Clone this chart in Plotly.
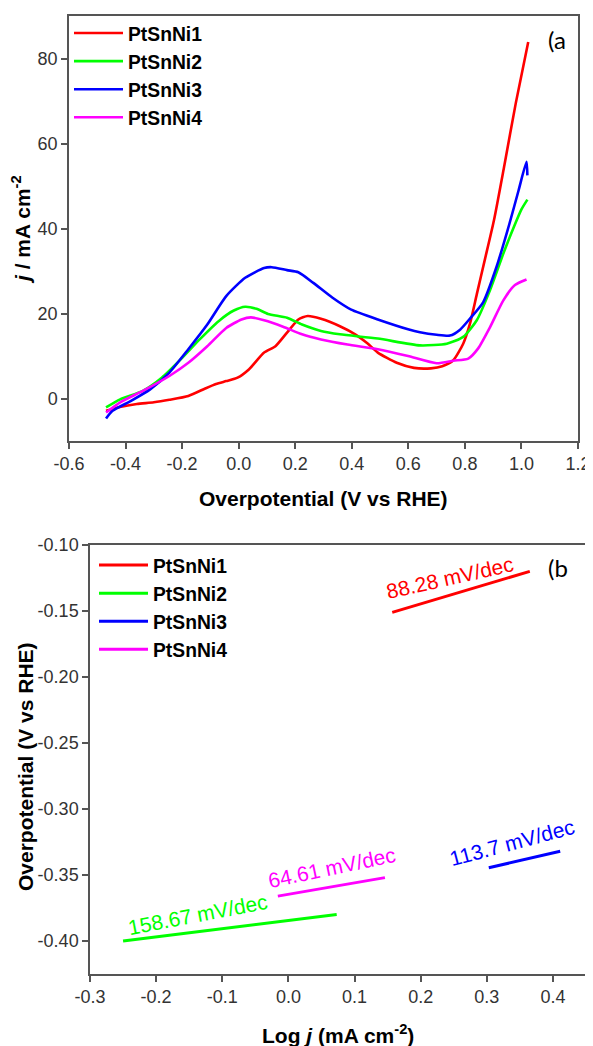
import plotly.graph_objects as go

# ---------------- data: panel (a) LSV curves ----------------
names = ["PtSnNi1", "PtSnNi2", "PtSnNi3", "PtSnNi4"]
colors = ["#FF0000", "#00FF00", "#0000FF", "#FF00FF"]

a1_x = [-0.469, -0.42, -0.36, -0.30, -0.245, -0.178, -0.12, -0.08, -0.044, -0.004, 0.037, 0.090, 0.130,
        0.171, 0.211, 0.244, 0.291, 0.358, 0.412, 0.455, 0.492, 0.559, 0.62, 0.68, 0.72, 0.759, 0.794,
        0.818, 0.842, 0.871, 0.903, 0.94, 0.98, 1.024]
a1_y = [-2.9, -2.0, -1.3, -0.9, -0.3, 0.6, 2.3, 3.4, 4.1, 4.9, 6.9, 10.8, 12.3, 15.5, 18.6, 19.4, 18.75,
        17.0, 15.1, 13.0, 10.8, 8.4, 7.2, 7.1, 7.6, 9.0, 12.9, 17.6, 24.5, 32.8, 42.0, 55.0, 69.5, 83.9]

a2_x = [-0.469, -0.419, -0.339, -0.272, -0.205, -0.138, -0.071, -0.017, 0.023, 0.063, 0.104, 0.171,
        0.224, 0.291, 0.358, 0.492, 0.641, 0.736, 0.794, 0.842, 0.889, 0.936, 0.971, 1.000, 1.021]
a2_y = [-2.1, -0.2, 1.8, 4.9, 9.2, 13.9, 18.2, 20.7, 21.6, 21.1, 19.9, 19.0, 17.4, 15.9, 15.1, 14.1,
        12.5, 12.9, 14.5, 18.4, 25.5, 34.1, 40.0, 44.5, 46.8]

a3_x = [-0.469, -0.446, -0.379, -0.312, -0.245, -0.178, -0.111, -0.044, 0.023, 0.090, 0.117, 0.171,
        0.211, 0.264, 0.332, 0.398, 0.492, 0.599, 0.641, 0.700, 0.747, 0.783, 0.818, 0.865, 0.912,
        0.957, 0.99, 1.018, 1.021]
a3_y = [-4.7, -2.9, -0.5, 2.2, 6.1, 11.6, 17.4, 24.1, 28.4, 30.7, 30.9, 30.2, 29.7, 27.2, 23.7, 20.9,
        18.6, 16.3, 15.6, 15.0, 14.8, 16.2, 18.8, 22.7, 31.0, 41.0, 49.0, 55.7, 52.5]

a4_x = [-0.469, -0.419, -0.339, -0.245, -0.178, -0.111, -0.044, 0.010, 0.043, 0.090, 0.157, 0.224,
        0.291, 0.385, 0.492, 0.599, 0.700, 0.759, 0.812, 0.847, 0.889, 0.936, 0.977, 1.018]
a4_y = [-3.3, -0.9, 1.8, 5.3, 8.4, 12.3, 16.6, 18.6, 19.1, 18.4, 16.9, 15.1, 13.9, 12.7, 11.6, 10.0,
        8.3, 8.9, 9.4, 11.8, 16.8, 23.1, 26.7, 28.0]

# ---------------- data: panel (b) Tafel lines ----------------
b1_x = [0.157, 0.365]
b1_y = [-0.151, -0.120]
b2_x = [-0.250, 0.073]
b2_y = [-0.400, -0.380]
b3_x = [0.303, 0.411]
b3_y = [-0.3445, -0.332]
b4_x = [-0.016, 0.146]
b4_y = [-0.366, -0.352]

slope_labels = ["88.28 mV/dec", "158.67 mV/dec", "113.7 mV/dec", "64.61 mV/dec"]
label_x = [0.245, -0.137, 0.3385, 0.0655]
label_y = [-0.1244, -0.3796, -0.3253, -0.3442]
label_angle = [-12.6, -10.9, -14.9, -11.9]

# tick labels
a_xticks = [-0.6, -0.4, -0.2, 0.0, 0.2, 0.4, 0.6, 0.8, 1.0, 1.2]
a_xtext = ["-0.6", "-0.4", "-0.2", "0.0", "0.2", "0.4", "0.6", "0.8", "1.0", "1.2"]
a_yticks = [0, 20, 40, 60, 80]
a_ytext = ["0", "20", "40", "60", "80"]
b_xticks = [-0.3, -0.2, -0.1, 0.0, 0.1, 0.2, 0.3, 0.4]
b_xtext = ["-0.3", "-0.2", "-0.1", "0.0", "0.1", "0.2", "0.3", "0.4"]
b_yticks = [-0.40, -0.35, -0.30, -0.25, -0.20, -0.15, -0.10]
b_ytext = ["-0.40", "-0.35", "-0.30", "-0.25", "-0.20", "-0.15", "-0.10"]

FONT = "Liberation Sans, Arial, sans-serif"
OFF = 8                      # default page body margin
W, H = 593 - OFF, 1046 - OFF


def px(x):
    return (x - OFF) / W


def py(y):
    return 1 - (y - OFF) / H


fig = go.Figure()
a_series = [(a1_x, a1_y), (a2_x, a2_y), (a3_x, a3_y), (a4_x, a4_y)]
for i, (xs, ys) in enumerate(a_series):
    fig.add_trace(go.Scatter(x=xs, y=ys, mode="lines", name=names[i],
                             line=dict(color=colors[i], width=2.6, shape="spline", smoothing=0.6),
                             xaxis="x", yaxis="y", legend="legend", legendgroup="a%d" % i))

b_series = [(b1_x, b1_y), (b2_x, b2_y), (b3_x, b3_y), (b4_x, b4_y)]
for i, (xs, ys) in enumerate(b_series):
    fig.add_trace(go.Scatter(x=xs, y=ys, mode="lines", name=names[i],
                             line=dict(color=colors[i], width=3),
                             xaxis="x2", yaxis="y2", legend="legend2", legendgroup="b%d" % i))

axis_common = dict(showgrid=False, zeroline=False, showline=True, mirror=True, automargin=False,
                   linecolor="#555555", linewidth=1.5, ticks="outside", ticklen=6,
                   tickwidth=1.5, tickcolor="#555555",
                   tickfont=dict(family=FONT, size=18, color="#333333"))

LEGFONT = dict(family=FONT, size=19.3, color="black", weight="bold")

fig.update_layout(
    template="none",
    width=W, height=H,
    margin=dict(l=0, r=0, t=0, b=0, autoexpand=False),
    paper_bgcolor="white", plot_bgcolor="white",
    xaxis=dict(domain=[px(69), px(578)], anchor="y", range=[-0.6, 1.2],
               tickmode="array", tickvals=a_xticks, ticktext=a_xtext, **axis_common),
    yaxis=dict(domain=[py(441), py(16)], anchor="x", range=[-10, 90],
               tickmode="array", tickvals=a_yticks, ticktext=a_ytext, **axis_common),
    xaxis2=dict(domain=[px(90), px(586)], anchor="y2", range=[-0.3, 0.45],
                tickmode="array", tickvals=b_xticks, ticktext=b_xtext, **axis_common),
    yaxis2=dict(domain=[py(974), py(545)], anchor="x2", range=[-0.425, -0.1],
                tickmode="array", tickvals=b_yticks, ticktext=b_ytext, **axis_common),
    legend=dict(x=px(69), y=py(14), xanchor="left", yanchor="top", itemwidth=49,
                bgcolor="rgba(0,0,0,0)", traceorder="grouped", tracegroupgap=0, font=LEGFONT),
    legend2=dict(x=px(94), y=py(546), xanchor="left", yanchor="top", itemwidth=49,
                 bgcolor="rgba(0,0,0,0)", traceorder="grouped", tracegroupgap=0, font=LEGFONT),
    showlegend=True,
)

ann = []
C = dict(xref="paper", yref="paper", showarrow=False, xanchor="center", yanchor="middle")
# axis titles
ann.append(dict(text="<b>Overpotential (V vs RHE)</b>", x=px(323.5), y=py(498),
                font=dict(family=FONT, size=21, color="black"), **C))
ann.append(dict(text="<b><i>j</i> / mA cm<sup>-2</sup></b>", x=px(21), y=py(230), textangle=-90,
                font=dict(family=FONT, size=21, color="black"), **C))
ann.append(dict(text="<b>Log <i>j</i> (mA cm<sup>-2</sup>)</b>", x=px(338), y=py(1034),
                font=dict(family=FONT, size=21, color="black"), **C))
ann.append(dict(text="<b>Overpotential (V vs RHE)</b>", x=px(25), y=py(767), textangle=-90,
                font=dict(family=FONT, size=21, color="black"), **C))
# panel labels
ann.append(dict(text="(a", x=px(557), y=py(40),
                font=dict(family="Lato, Open Sans, sans-serif", size=24, color="black"), **C))
ann.append(dict(text="(b", x=px(558), y=py(567),
                font=dict(family="Lato, Open Sans, sans-serif", size=24, color="black"), **C))
# slope labels
for t, lx, ly, ang, c in zip(slope_labels, label_x, label_y, label_angle, colors):
    ann.append(dict(text=t, x=lx, y=ly, xref="x2", yref="y2", showarrow=False, textangle=ang,
                    xanchor="center", yanchor="middle",
                    font=dict(family=FONT, size=21, color=c)))
fig.update_layout(annotations=ann)

fig.write_html("out.html")
